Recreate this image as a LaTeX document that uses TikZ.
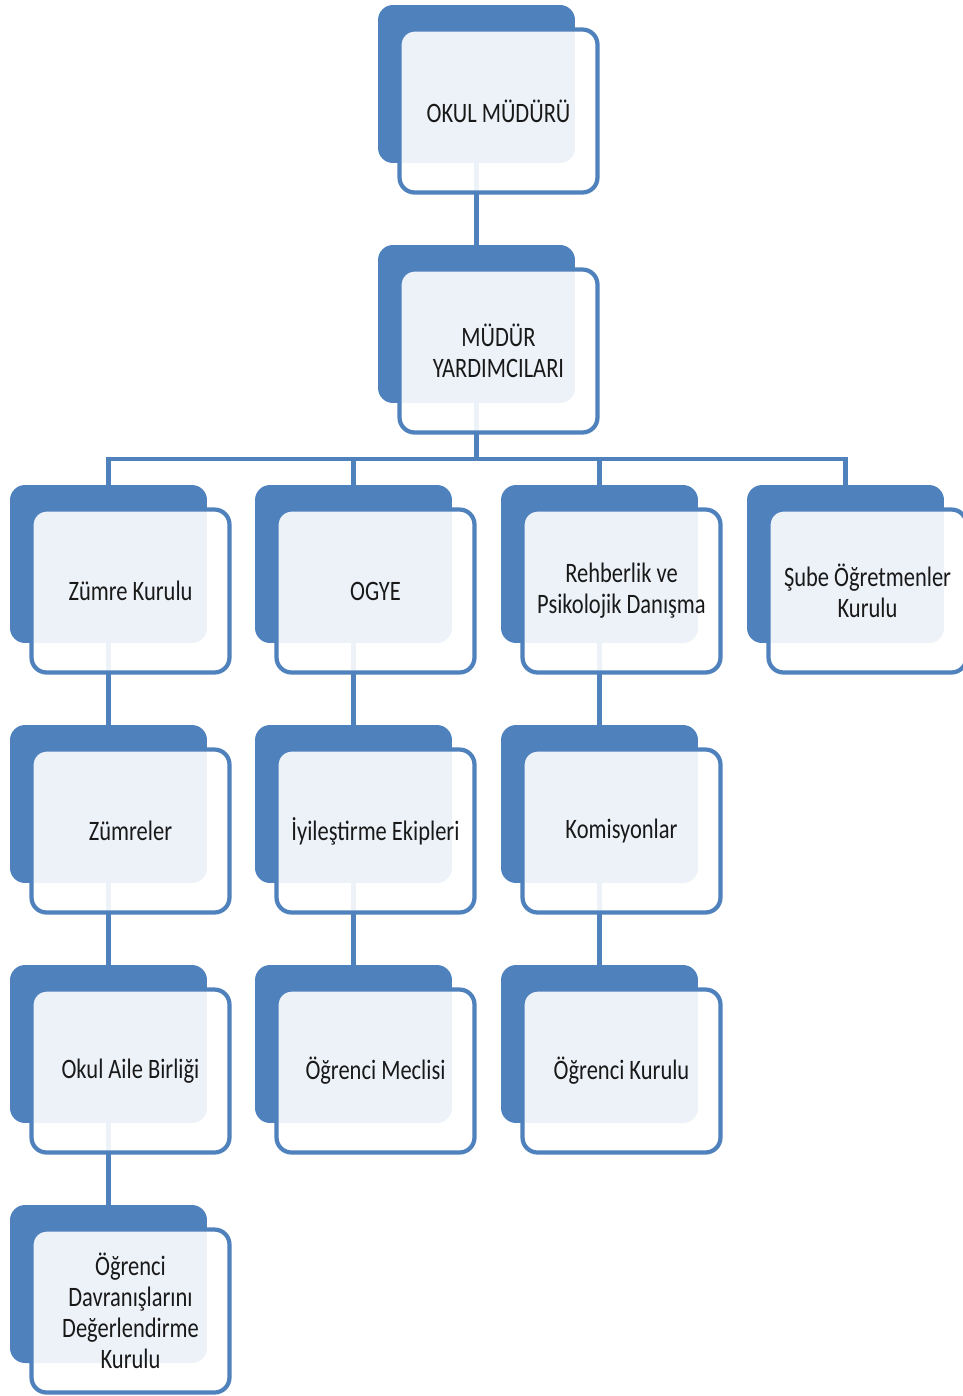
\documentclass[tikz,border=0pt]{standalone}
\usepackage{fontspec}
\setmainfont{Carlito}[FakeStretch=0.8]
\definecolor{orgblue}{HTML}{4F81BD}

\begin{document}
\begin{tikzpicture}[x=0.02cm,y=-0.02cm,
	back/.style={fill=orgblue, rounded corners=0.3cm, minimum width=3.94cm, minimum height=3.16cm, inner sep=0pt},
	front/.style={draw=orgblue, line width=2.4pt, fill=white, fill opacity=0.9, text opacity=1, rounded corners=0.3cm, minimum width=3.96cm, minimum height=3.26cm, inner sep=0pt, align=center, text=black!90, font=\fontsize{16pt}{17.6pt}\selectfont},
	link/.style={draw=orgblue, line width=2.4pt}]
	\useasboundingbox (0,0) rectangle (963,1396);
	% blue plates behind
	\node [back] (mudurB) at (476.5,84) {};
	\node [back] (yardB) at (476.5,324) {};
	\node [back] (zumreB) at (108.5,564) {};
	\node [back] (ogyeB) at (353.5,564) {};
	\node [back] (rehberB) at (599.5,564) {};
	\node [back] (subeB) at (845.5,564) {};
	\node [back] (zumrelerB) at (108.5,804) {};
	\node [back] (iyiB) at (353.5,804) {};
	\node [back] (komB) at (599.5,804) {};
	\node [back] (aileB) at (108.5,1044) {};
	\node [back] (meclisB) at (353.5,1044) {};
	\node [back] (kurulB) at (599.5,1044) {};
	\node [back] (odkB) at (108.5,1284) {};
	% connectors
	\coordinate (bus) at (476.5,459);
	\draw [link] (mudurB.south) -- (yardB.north);
	\draw [link] (yardB.south) -- (bus);
	\draw [link] (zumreB.north) |- (bus) -| (subeB.north);
	\draw [link] (ogyeB.north) -- (ogyeB.north |- bus);
	\draw [link] (rehberB.north) -- (rehberB.north |- bus);
	\draw [link] (zumreB.south) -- (zumrelerB.north);
	\draw [link] (zumrelerB.south) -- (aileB.north);
	\draw [link] (aileB.south) -- (odkB.north);
	\draw [link] (ogyeB.south) -- (iyiB.north);
	\draw [link] (iyiB.south) -- (meclisB.north);
	\draw [link] (rehberB.south) -- (komB.north);
	\draw [link] (komB.south) -- (kurulB.north);
	% white boxes in front
	\node [front] (mudur) at (498.5,111) {OKUL MÜDÜRÜ};
	\node [front] (yard) at (498.5,351) {MÜDÜR\\YARDIMCILARI};
	\node [front] (zumre) at (130.5,591) {Zümre Kurulu};
	\node [front] (ogye) at (375.5,591) {OGYE};
	\node [front] (rehber) at (621.5,591) {Rehberlik ve\\Psikolojik Danışma};
	\node [front] (sube) at (867.5,591) {Şube Öğretmenler\\Kurulu};
	\node [front] (zumreler) at (130.5,831) {Zümreler};
	\node [front] (iyi) at (375.5,831) {İyileştirme Ekipleri};
	\node [front] (kom) at (621.5,831) {Komisyonlar};
	\node [front] (aile) at (130.5,1071) {Okul Aile Birliği};
	\node [front] (meclis) at (375.5,1071) {Öğrenci Meclisi};
	\node [front] (kurul) at (621.5,1071) {Öğrenci Kurulu};
	\node [front] (odk) at (130.5,1311) {Öğrenci\\Davranışlarını\\Değerlendirme\\Kurulu};
\end{tikzpicture}
\end{document}
